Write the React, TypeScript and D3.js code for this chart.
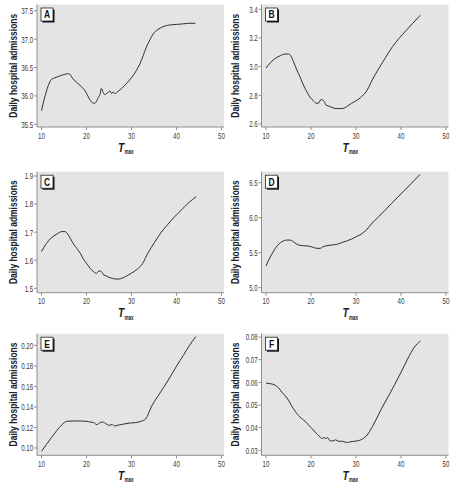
import React from 'react';
import * as d3 from 'd3';

// ---------- data ----------
const tmaxA = [10, 10.7, 11.5, 12.2, 13, 14, 15.2, 15.8, 16.3, 17, 17.8, 18.9, 19.6, 20.1, 20.7, 21.3, 21.8, 22.2, 22.6, 23.0, 23.3, 23.7, 24.1, 24.4, 24.8, 25.2, 25.6, 25.9, 26.3, 27.0, 27.8, 28.9, 30.0, 31.1, 31.9, 32.6, 33.3, 34.1, 34.8, 35.9, 37.0, 38.5, 40.0, 41.5, 43.0, 44.2];
const admissionsA = [35.74, 35.97, 36.18, 36.29, 36.32, 36.35, 36.38, 36.39, 36.38, 36.30, 36.24, 36.16, 36.10, 36.03, 35.94, 35.88, 35.87, 35.90, 35.97, 36.03, 36.13, 36.06, 36.02, 36.04, 36.06, 36.09, 36.04, 36.07, 36.04, 36.08, 36.13, 36.22, 36.32, 36.45, 36.57, 36.71, 36.86, 36.99, 37.09, 37.17, 37.22, 37.25, 37.26, 37.27, 37.28, 37.28];

const tmaxB = [10, 11, 12.1, 13.2, 14.3, 15.0, 15.4, 16.1, 16.85, 17.6, 18.3, 19.05, 19.8, 20.5, 21.3, 21.8, 22.2, 22.6, 23.0, 23.3, 23.85, 24.6, 25.3, 26.4, 27.2, 27.9, 29.0, 29.9, 31.4, 32.5, 33.6, 35.1, 36.6, 38.1, 39.6, 41.1, 42.6, 44.3];
const admissionsB = [2.99, 3.028, 3.058, 3.077, 3.088, 3.088, 3.081, 3.035, 2.977, 2.926, 2.872, 2.826, 2.786, 2.763, 2.744, 2.749, 2.772, 2.767, 2.756, 2.733, 2.726, 2.716, 2.709, 2.707, 2.709, 2.721, 2.744, 2.76, 2.795, 2.837, 2.907, 2.989, 3.065, 3.139, 3.198, 3.251, 3.302, 3.358];

const tmaxC = [10, 11.1, 12.2, 13.4, 14.5, 15.2, 15.6, 16.4, 17.1, 17.85, 18.6, 19.35, 20.1, 20.8, 21.6, 22.2, 22.55, 23.1, 23.5, 23.8, 24.4, 24.95, 25.7, 26.4, 27.2, 27.9, 28.7, 29.9, 31.3, 32.5, 33.6, 35.1, 36.6, 38.1, 39.6, 41.1, 42.6, 44.4];
const admissionsC = [1.631, 1.660, 1.680, 1.693, 1.702, 1.702, 1.698, 1.678, 1.658, 1.642, 1.625, 1.603, 1.587, 1.571, 1.559, 1.553, 1.559, 1.562, 1.556, 1.548, 1.544, 1.539, 1.536, 1.533, 1.533, 1.536, 1.542, 1.553, 1.568, 1.589, 1.624, 1.663, 1.699, 1.728, 1.755, 1.779, 1.803, 1.827];

const tmaxD = [10, 10.6, 11.3, 12.06, 12.8, 13.5, 14.6, 15.4, 16.1, 17.2, 18.3, 19.4, 20.5, 21.3, 22.0, 22.7, 23.5, 24.6, 25.7, 26.8, 27.9, 29.0, 30.1, 31.2, 32.3, 33.4, 34.9, 36.4, 37.85, 39.3, 40.8, 42.3, 44.25];
const admissionsD = [5.31, 5.395, 5.48, 5.56, 5.62, 5.655, 5.68, 5.68, 5.655, 5.61, 5.60, 5.595, 5.576, 5.562, 5.562, 5.586, 5.60, 5.61, 5.619, 5.643, 5.667, 5.695, 5.73, 5.767, 5.824, 5.91, 6.006, 6.103, 6.2, 6.296, 6.392, 6.49, 6.619];

const tmaxE = [10, 11.1, 12.2, 13.4, 14.5, 15.6, 17.1, 18.6, 20.1, 20.8, 21.6, 22.3, 22.9, 23.5, 24.0, 24.6, 25.2, 25.7, 26.2, 26.8, 27.6, 28.7, 29.8, 30.9, 32.1, 33.2, 34.4, 35.8, 37.3, 38.7, 40.05, 41.5, 42.9, 44.3];
const admissionsE = [0.0968, 0.1035, 0.1100, 0.1170, 0.1225, 0.1260, 0.1263, 0.1263, 0.1260, 0.1253, 0.1247, 0.1227, 0.1244, 0.1253, 0.1247, 0.1227, 0.1221, 0.1231, 0.1214, 0.1221, 0.1227, 0.1237, 0.1244, 0.1247, 0.1260, 0.1286, 0.140, 0.150, 0.160, 0.170, 0.180, 0.190, 0.200, 0.2085];

const tmaxF = [10, 10.96, 12.06, 12.8, 13.5, 14.3, 15.0, 15.7, 16.5, 17.2, 17.95, 18.7, 19.4, 20.2, 20.9, 21.5, 22.0, 22.5, 22.9, 23.3, 23.7, 24.1, 24.6, 25.2, 25.5, 26.1, 26.8, 27.5, 28.1, 28.6, 29.7, 30.8, 31.6, 32.3, 33.05, 34.2, 35.6, 37.1, 38.6, 40.06, 41.5, 43.0, 44.3];
const admissionsF = [0.0597, 0.0594, 0.0587, 0.0575, 0.0557, 0.054, 0.0521, 0.0496, 0.0472, 0.0454, 0.044, 0.0428, 0.0413, 0.0396, 0.0381, 0.0369, 0.0359, 0.0352, 0.0356, 0.0352, 0.0356, 0.0344, 0.0341, 0.0344, 0.0346, 0.034, 0.034, 0.0337, 0.0334, 0.0337, 0.034, 0.0344, 0.0352, 0.0363, 0.0384, 0.0425, 0.0481, 0.0535, 0.059, 0.0646, 0.0704, 0.0756, 0.0782];

const xTicks = [10, 20, 30, 40, 50];
const yTicksA = [35.5, 36.0, 36.5, 37.0, 37.5];
const yTicksB = [2.6, 2.8, 3.0, 3.2, 3.4];
const yTicksC = [1.5, 1.6, 1.7, 1.8, 1.9];
const yTicksD = [5.0, 5.5, 6.0, 6.5];
const yTicksE = [0.10, 0.12, 0.14, 0.16, 0.18, 0.20];
const yTicksF = [0.03, 0.04, 0.05, 0.06, 0.07, 0.08];

const yDomainA = [35.452, 37.611];
const yDomainB = [2.579, 3.4335];
const yDomainC = [1.4843, 1.9153];
const yDomainD = [4.9286, 6.657];
const yDomainE = [0.09289, 0.21129];
const yDomainF = [0.02779, 0.08146];

const panelLetters = ['A', 'B', 'C', 'D', 'E', 'F'];
const yTitle = 'Daily hospital admissions';

// ---------- layout ----------
const W = 455;
const H = 486;
const colX = [37, 261.5];
const plotW = 187;
const rows = [
  [4.5, 127],
  [171.7, 292.7],
  [333.7, 455.3],
];
const titleX = [13, 234.5];
const xDomain = [9, 50.56];
const FONT = "'Liberation Sans', Arial, sans-serif";
const NARROW = 0.65;

const panels = [
  { x: tmaxA, y: admissionsA, ticks: yTicksA, domain: yDomainA, fmt: '.1f' },
  { x: tmaxB, y: admissionsB, ticks: yTicksB, domain: yDomainB, fmt: '.1f' },
  { x: tmaxC, y: admissionsC, ticks: yTicksC, domain: yDomainC, fmt: '.1f' },
  { x: tmaxD, y: admissionsD, ticks: yTicksD, domain: yDomainD, fmt: '.1f' },
  { x: tmaxE, y: admissionsE, ticks: yTicksE, domain: yDomainE, fmt: '.2f' },
  { x: tmaxF, y: admissionsF, ticks: yTicksF, domain: yDomainF, fmt: '.2f' },
];

function Panel({ idx }: { idx: number }) {
  const p = panels[idx];
  const col = idx % 2;
  const row = Math.floor(idx / 2);
  const x0 = colX[col];
  const x1 = x0 + plotW;
  const [top, bottom] = rows[row];
  const xs = d3.scaleLinear().domain(xDomain).range([x0, x1]);
  const ys = d3.scaleLinear().domain(p.domain).range([bottom, top]);
  const fmt = d3.format(p.fmt);
  const pts = p.x.map((v, i) => [v, p.y[i]] as [number, number]);
  const line = d3
    .line<[number, number]>()
    .x((d) => xs(d[0]))
    .y((d) => ys(d[1]))
    .curve(d3.curveMonotoneX);
  const axisColor = '#8c8c8c';
  const midY = (top + bottom) / 2;
  const bx = x0 + 4;
  const by = top + 3.5;
  return (
    <g>
      <rect x={x0} y={top} width={plotW} height={bottom - top} fill="#e4e4e5" />
      <line x1={x0} x2={x0} y1={top} y2={bottom} stroke={axisColor} strokeWidth={1} />
      <line x1={x0} x2={x1} y1={bottom} y2={bottom} stroke={axisColor} strokeWidth={1} />
      {p.ticks.map((t) => (
        <g key={'y' + t}>
          <line x1={x0 - 3} x2={x0} y1={ys(t)} y2={ys(t)} stroke={axisColor} strokeWidth={1} />
          <text
            transform={`translate(${x0 - 3.8},${ys(t) + 3.4}) scale(${NARROW},1)`}
            textAnchor="end"
            fontSize={9.5}
            fill="#3a3a3a"
            fontFamily={FONT}
          >
            {fmt(t)}
          </text>
        </g>
      ))}
      {xTicks.map((t) => (
        <g key={'x' + t}>
          <line x1={xs(t)} x2={xs(t)} y1={bottom} y2={bottom + 3} stroke={axisColor} strokeWidth={1} />
          <text
            transform={`translate(${xs(t)},${bottom + 11.5}) scale(${NARROW},1)`}
            textAnchor="middle"
            fontSize={9.5}
            fill="#3a3a3a"
            fontFamily={FONT}
          >
            {t}
          </text>
        </g>
      ))}
      <path d={line(pts) || ''} fill="none" stroke="#2e2e2e" strokeWidth={1} />
      <rect x={bx + 1.5} y={by + 1.5} width={12} height={13} fill="#111" />
      <rect x={bx} y={by} width={12} height={13} fill="#fff" stroke="#222" strokeWidth={0.8} />
      <text
        transform={`translate(${bx + 6},${by + 10.3}) scale(0.85,1)`}
        textAnchor="middle"
        fontSize={10}
        fontWeight="bold"
        fill="#111"
        fontFamily={FONT}
      >
        {panelLetters[idx]}
      </text>
      <text
        transform={`translate(${titleX[col] + 4},${midY}) rotate(-90) scale(0.77,1)`}
        textAnchor="middle"
        fontSize={11}
        fontWeight="bold"
        fill="#222"
        fontFamily={FONT}
      >
        {yTitle}
      </text>
      <text
        transform={`translate(${x0 + 81},${bottom + 24.5}) scale(0.85,1)`}
        fontSize={12}
        fontStyle="italic"
        fontWeight="bold"
        fill="#222"
        fontFamily={FONT}
      >
        T
      </text>
      <text
        transform={`translate(${x0 + 87.5},${bottom + 27}) scale(0.6,1)`}
        fontSize={7.5}
        fontWeight="bold"
        fill="#222"
        fontFamily={FONT}
      >
        max
      </text>
    </g>
  );
}

export default function App() {
  return (
    <svg
      width={W}
      height={H}
      viewBox={`0 0 ${W} ${H}`}
      style={{ position: 'absolute', left: 0, top: 0, background: '#fff' }}
    >
      <rect x={0} y={0} width={W} height={H} fill="#fff" />
      {panels.map((_, i) => (
        <Panel key={i} idx={i} />
      ))}
    </svg>
  );
}
